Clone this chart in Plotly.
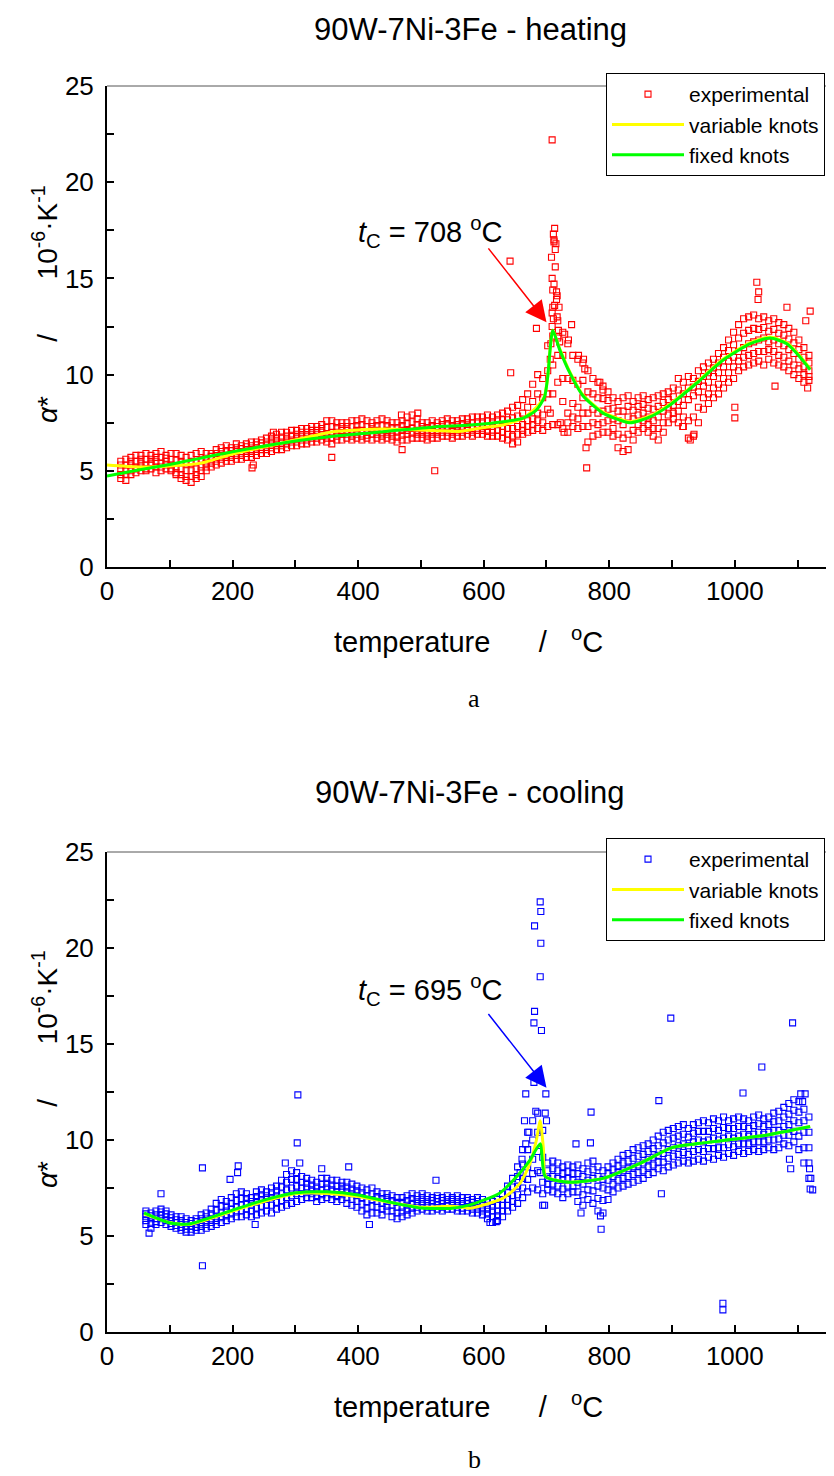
import plotly.graph_objects as go

# heating run: temperature columns and alpha* at several heights
heat_t = [22, 30, 38, 46, 54, 62, 70, 78, 86, 94,
          102, 110, 118, 126, 134, 142, 150, 158, 166, 174,
          182, 190, 198, 206, 214, 222, 230, 238, 246, 254,
          262, 270, 278, 286, 294, 302, 310, 318, 326, 334,
          342, 350, 358, 366, 374, 382, 390, 398, 406, 414,
          422, 430, 438, 446, 454, 462, 470, 478, 486, 494,
          502, 510, 518, 526, 534, 542, 550, 558, 566, 574,
          582, 590, 598, 606, 614, 622, 630, 638, 646, 654,
          662, 670, 678, 686, 694, 702, 710, 718, 726, 734,
          742, 750, 758, 766, 774, 782, 790, 798, 806, 814,
          822, 830, 838, 846, 854, 862, 870, 878, 886, 894,
          902, 910, 918, 926, 934, 942, 950, 958, 966, 974,
          982, 990, 998, 1006, 1014, 1022, 1030, 1038, 1046, 1054,
          1062, 1070, 1078, 1086, 1094, 1102, 1110, 1118]
heat_lo = [4.6, 4.5, 4.8, 4.9, 5.0, 5.0, 5.1, 4.9, 5.0, 5.1,
           5.0, 4.8, 4.6, 4.5, 4.4, 4.6, 4.7, 5.0, 5.2, 5.3,
           5.4, 5.5, 5.5, 5.6, 5.6, 5.7, 5.7, 5.8, 5.9, 5.9,
           6.0, 6.1, 6.1, 6.2, 6.3, 6.3, 6.4, 6.4, 6.5, 6.5,
           6.6, 6.5, 6.4, 6.6, 6.6, 6.7, 6.6, 6.7, 6.6, 6.7,
           6.6, 6.7, 6.6, 6.7, 6.6, 6.5, 6.6, 6.6, 6.7, 6.7,
           6.7, 6.6, 6.7, 6.7, 6.8, 6.8, 6.7, 6.8, 6.8, 6.9,
           6.8, 6.9, 6.9, 6.8, 6.8, 6.8, 6.7, 6.6, 6.4, 6.5,
           6.9, 7.0, 7.1, 7.2, 7.1, 7.3, 7.4, 7.4, 7.2, 7.0,
           7.3, 7.2, 7.3, 6.5, 6.8, 6.9, 7.0, 7.0, 6.8, 6.2,
           6.0, 6.1, 6.6, 7.0, 7.2, 7.0, 6.8, 6.6, 7.0, 7.5,
           7.7, 7.5, 7.3, 6.7, 6.8, 7.5, 8.2, 8.5, 8.8, 9.0,
           9.3, 9.6, 9.8, 10.2, 10.4, 10.5, 10.6, 10.7, 10.5, 10.8,
           10.6, 10.5, 10.4, 10.2, 10.0, 9.8, 9.6, 9.7]
heat_q1 = [4.8, 4.8, 5.0, 5.1, 5.2, 5.1, 5.3, 5.2, 5.2, 5.3,
           5.1, 4.9, 4.8, 4.7, 4.7, 4.8, 5.0, 5.2, 5.4, 5.5,
           5.6, 5.7, 5.7, 5.8, 5.8, 5.9, 5.9, 6.0, 6.1, 6.1,
           6.2, 6.3, 6.3, 6.4, 6.5, 6.5, 6.6, 6.6, 6.7, 6.7,
           6.8, 6.7, 6.7, 6.8, 6.9, 6.9, 6.8, 6.9, 6.8, 6.85,
           6.9, 6.9, 6.8, 6.9, 6.8, 6.75, 6.85, 6.9, 6.95, 6.9,
           6.9, 6.8, 6.9, 6.9, 7.0, 7.0, 6.9, 7.0, 7.0, 7.1,
           7.0, 7.1, 7.1, 7.05, 7.0, 7.1, 7.0, 6.9, 6.8, 6.9,
           7.1, 7.3, 7.4, 7.6, 7.5, 8.2, 9.0, 9.6, 8.6, 7.5,
           7.8, 7.7, 8.0, 7.3, 7.5, 7.4, 7.5, 7.6, 7.2, 6.9,
           6.7, 6.9, 7.1, 7.4, 7.6, 7.4, 7.2, 7.2, 7.5, 7.9,
           8.0, 8.1, 7.8, 7.6, 7.8, 8.3, 8.8, 9.0, 9.3, 9.5,
           9.8, 10.1, 10.4, 10.7, 10.9, 11.0, 11.1, 11.2, 11.2, 11.3,
           11.2, 11.0, 10.9, 10.7, 10.5, 10.3, 10.0, 9.9]
heat_mid = [5.1, 5.0, 5.3, 5.2, 5.4, 5.3, 5.4, 5.5, 5.4, 5.5,
            5.3, 5.2, 5.1, 5.0, 5.0, 5.1, 5.2, 5.4, 5.6, 5.7,
            5.8, 5.8, 5.9, 6.0, 6.0, 6.1, 6.1, 6.2, 6.3, 6.3,
            6.4, 6.5, 6.5, 6.6, 6.6, 6.7, 6.8, 6.8, 6.9, 6.9,
            7.0, 6.9, 7.0, 7.0, 7.1, 7.1, 7.0, 7.1, 7.1, 7.0,
            7.1, 7.1, 7.0, 7.1, 7.0, 7.0, 7.1, 7.1, 7.2, 7.1,
            7.1, 7.0, 7.1, 7.1, 7.2, 7.2, 7.1, 7.2, 7.2, 7.3,
            7.2, 7.3, 7.3, 7.3, 7.3, 7.4, 7.3, 7.2, 7.2, 7.3,
            7.4, 7.6, 7.7, 8.0, 7.9, 9.0, 10.5, 11.0, 9.8, 8.0,
            8.5, 8.3, 8.8, 8.0, 8.2, 8.0, 8.1, 8.2, 7.7, 7.6,
            7.4, 7.8, 7.7, 7.9, 8.0, 7.8, 7.6, 7.8, 8.1, 8.3,
            8.4, 8.6, 8.4, 8.7, 8.9, 9.1, 9.4, 9.6, 9.9, 10.1,
            10.4, 10.7, 10.9, 11.2, 11.4, 11.6, 11.7, 11.8, 11.9, 11.7,
            11.8, 11.6, 11.5, 11.3, 11.1, 10.8, 10.4, 10.2]
heat_q3 = [5.3, 5.3, 5.5, 5.5, 5.6, 5.6, 5.6, 5.7, 5.7, 5.65,
           5.6, 5.55, 5.45, 5.35, 5.4, 5.5, 5.6, 5.65, 5.75, 5.9,
           6.0, 6.05, 6.05, 6.2, 6.15, 6.25, 6.3, 6.35, 6.45, 6.5,
           6.6, 6.7, 6.75, 6.8, 6.85, 6.9, 7.0, 7.0, 7.1, 7.1,
           7.2, 7.25, 7.3, 7.25, 7.3, 7.3, 7.3, 7.35, 7.4, 7.3,
           7.3, 7.35, 7.35, 7.35, 7.25, 7.25, 7.35, 7.45, 7.55, 7.4,
           7.3, 7.25, 7.35, 7.3, 7.4, 7.45, 7.35, 7.4, 7.45, 7.5,
           7.5, 7.55, 7.55, 7.6, 7.55, 7.65, 7.65, 7.65, 7.75, 7.85,
           8.0, 8.3, 8.6, 9.0, 8.8, 10.2, 12.0, 11.9, 11.0, 9.8,
           9.7, 9.5, 9.7, 9.1, 9.0, 8.8, 8.75, 8.65, 8.25, 8.1,
           8.1, 8.35, 8.15, 8.35, 8.45, 8.25, 8.2, 8.35, 8.55, 8.7,
           8.85, 9.2, 9.0, 9.3, 9.35, 9.65, 9.9, 10.1, 10.35, 10.6,
           10.9, 11.25, 11.55, 11.9, 12.15, 12.3, 12.4, 12.35, 12.45, 12.25,
           12.35, 12.15, 12.05, 11.85, 11.65, 11.3, 10.9, 10.6]
heat_hi = [5.5, 5.6, 5.7, 5.8, 5.8, 5.9, 5.8, 5.9, 6.0, 5.8,
           5.9, 5.9, 5.8, 5.7, 5.8, 5.9, 6.0, 5.9, 5.9, 6.1,
           6.2, 6.3, 6.2, 6.4, 6.3, 6.4, 6.5, 6.5, 6.6, 6.7,
           6.8, 6.9, 7.0, 7.0, 7.1, 7.1, 7.2, 7.2, 7.3, 7.3,
           7.4, 7.6, 7.6, 7.5, 7.5, 7.5, 7.6, 7.6, 7.7, 7.6,
           7.5, 7.6, 7.7, 7.6, 7.5, 7.5, 7.6, 7.8, 7.9, 7.7,
           7.5, 7.5, 7.6, 7.5, 7.6, 7.7, 7.6, 7.6, 7.7, 7.7,
           7.8, 7.8, 7.8, 7.9, 7.8, 7.9, 8.0, 8.1, 8.3, 8.4,
           8.7, 9.0, 9.5, 10.0, 9.8, 11.5, 13.5, 12.8, 12.2, 11.6,
           11.0, 10.8, 10.6, 10.2, 9.8, 9.6, 9.4, 9.1, 8.8, 8.6,
           8.8, 8.9, 8.6, 8.8, 8.9, 8.7, 8.8, 8.9, 9.0, 9.1,
           9.3, 9.8, 9.6, 9.9, 9.8, 10.2, 10.4, 10.6, 10.8, 11.1,
           11.4, 11.8, 12.2, 12.6, 12.9, 13.0, 13.1, 12.9, 13.0, 12.8,
           12.9, 12.7, 12.6, 12.4, 12.2, 11.8, 11.4, 11.0]
# heating: peak spike and scattered points off the band
heat_out_t = [709, 713, 711, 712, 708, 714, 709, 712, 716, 717,
              713, 709, 717, 720, 709, 740, 729, 735, 751, 759,
              761, 785, 790, 642, 643, 684, 764, 763, 1000, 1000,
              1035, 1038, 1037, 1064, 1083, 1120, 1113, 1116, 522, 231,
              233, 358, 470, 495, 469, 265, 917, 929, 935, 706,
              722, 728, 706, 707, 711, 714, 716, 719, 721, 715,
              710, 712]
heat_out_a = [22.2, 17.6, 17.3, 16.9, 16.1, 16.5, 15.0, 14.7, 14.3, 14.1,
              13.6, 13.2, 13.0, 13.5, 12.5, 12.6, 12.1, 11.8, 11.0, 10.8,
              10.3, 9.6, 9.2, 15.9, 10.1, 12.4, 5.15, 6.2, 7.75, 8.3,
              14.8, 14.3, 13.9, 9.4, 13.5, 13.3, 12.8, 9.3, 5.0, 5.15,
              5.3, 5.7, 6.1, 8.0, 7.9, 7.0, 7.3, 6.6, 6.9, 8.0,
              7.5, 7.0, 10.8, 11.6, 12.9, 15.6, 13.9, 12.3, 11.7, 16.8,
              14.4, 17.0]
# heating fits
heat_var_t = [0, 50, 100, 150, 200, 300, 360, 440, 520, 563, 600, 631, 663, 684, 697, 702,
              710, 721, 737, 758, 790, 833, 865, 896, 939, 981, 1024, 1056, 1083, 1104, 1120]
heat_var_a = [5.3, 5.2, 5.25, 5.4, 5.87, 6.6, 7.03, 7.17, 7.1, 7.05, 7.25, 7.38, 7.74, 8.3, 8.9, 9.9,
              12.3, 11.35, 10.15, 8.95, 8.05, 7.55, 7.85, 8.45, 9.6, 10.8, 11.65, 11.95, 11.65, 10.95, 10.3]
heat_fix_t = [0, 50, 100, 150, 200, 300, 360, 440, 520, 578, 631, 663, 684, 697, 702,
              710, 721, 737, 758, 790, 833, 865, 896, 939, 981, 1024, 1056, 1083, 1104, 1120]
heat_fix_a = [4.73, 5.04, 5.33, 5.66, 5.99, 6.55, 6.8, 7.03, 7.28, 7.38, 7.55, 7.74, 8.16, 8.85, 9.9,
              12.3, 11.3, 10.1, 8.9, 8.0, 7.5, 7.8, 8.4, 9.55, 10.75, 11.6, 11.9, 11.6, 10.9, 10.25]

# cooling run
cool_t = [62, 70, 78, 86, 94, 102, 110, 118, 126, 134,
          142, 150, 158, 166, 174, 182, 190, 198, 206, 214,
          222, 230, 238, 246, 254, 262, 270, 278, 286, 294,
          302, 310, 318, 326, 334, 342, 350, 358, 366, 374,
          382, 390, 398, 406, 414, 422, 430, 438, 446, 454,
          462, 470, 478, 486, 494, 502, 510, 518, 526, 534,
          542, 550, 558, 566, 574, 582, 590, 598, 606, 614,
          622, 630, 638, 646, 654, 662, 670, 678, 686, 694,
          702, 710, 718, 726, 734, 742, 750, 758, 766, 774,
          782, 790, 798, 806, 814, 822, 830, 838, 846, 854,
          862, 870, 878, 886, 894, 902, 910, 918, 926, 934,
          942, 950, 958, 966, 974, 982, 990, 998, 1006, 1014,
          1022, 1030, 1038, 1046, 1054, 1062, 1070, 1078, 1086, 1094,
          1102, 1110, 1118]
cool_lo = [5.6, 5.4, 5.6, 5.7, 5.6, 5.5, 5.4, 5.3, 5.2, 5.2,
           5.3, 5.3, 5.4, 5.5, 5.6, 5.7, 5.8, 5.9, 6.0, 6.0,
           6.1, 6.0, 6.1, 6.2, 6.3, 6.2, 6.4, 6.5, 6.6, 6.7,
           6.8, 6.9, 7.0, 7.0, 6.8, 6.9, 7.0, 6.9, 6.8, 6.9,
           6.7, 6.6, 6.5, 6.3, 6.1, 6.2, 6.2, 6.1, 6.3, 6.0,
           5.9, 6.0, 6.1, 6.2, 6.3, 6.4, 6.3, 6.3, 6.4, 6.3,
           6.4, 6.4, 6.3, 6.3, 6.3, 6.2, 6.2, 6.1, 5.9, 5.7,
           5.8, 6.0, 6.3, 6.5, 6.7, 7.0, 7.3, 7.5, 7.4, 6.6,
           7.4, 7.3, 7.2, 7.0, 7.2, 7.3, 6.8, 6.6, 6.9, 6.7,
           6.3, 6.2, 6.9, 7.3, 7.5, 7.6, 7.7, 7.8, 7.9, 8.0,
           8.2, 8.3, 8.5, 8.4, 8.6, 8.7, 8.8, 8.9, 8.8, 8.9,
           9.0, 8.9, 9.1, 9.0, 9.2, 9.1, 9.3, 9.2, 9.4, 9.3,
           9.4, 9.5, 9.4, 9.5, 9.6, 9.5, 9.6, 9.8, 9.7, 9.9,
           9.5, 8.8, 8.0]
cool_q1 = [5.8, 5.65, 5.75, 5.9, 5.8, 5.65, 5.55, 5.45, 5.35, 5.35,
           5.45, 5.5, 5.6, 5.7, 5.8, 5.95, 6.05, 6.15, 6.25, 6.3,
           6.4, 6.3, 6.45, 6.55, 6.6, 6.6, 6.75, 6.85, 7.0, 7.1,
           7.2, 7.2, 7.25, 7.2, 7.05, 7.15, 7.25, 7.15, 7.05, 7.15,
           7.0, 6.9, 6.8, 6.65, 6.45, 6.55, 6.5, 6.4, 6.55, 6.3,
           6.2, 6.25, 6.35, 6.45, 6.5, 6.6, 6.5, 6.5, 6.6, 6.5,
           6.55, 6.6, 6.5, 6.45, 6.5, 6.4, 6.4, 6.3, 6.15, 6.0,
           6.05, 6.3, 6.6, 6.8, 7.15, 7.5, 7.95, 8.25, 8.4, 7.2,
           7.7, 7.7, 7.6, 7.45, 7.6, 7.6, 7.3, 7.15, 7.4, 7.35,
           6.95, 6.85, 7.4, 7.7, 7.9, 8.0, 8.1, 8.2, 8.3, 8.4,
           8.6, 8.7, 8.85, 8.85, 9.05, 9.15, 9.25, 9.35, 9.25, 9.4,
           9.5, 9.4, 9.55, 9.55, 9.6, 9.6, 9.75, 9.65, 9.8, 9.8,
           9.8, 9.9, 9.9, 9.9, 10.0, 10.0, 10.05, 10.25, 10.25, 10.45,
           10.2, 9.6, 8.8]
cool_mid = [6.0, 5.9, 5.9, 6.1, 6.0, 5.8, 5.7, 5.6, 5.5, 5.5,
            5.6, 5.7, 5.8, 5.9, 6.0, 6.2, 6.3, 6.4, 6.5, 6.6,
            6.7, 6.6, 6.8, 6.9, 6.9, 7.0, 7.1, 7.2, 7.4, 7.5,
            7.6, 7.5, 7.5, 7.4, 7.3, 7.4, 7.5, 7.4, 7.3, 7.4,
            7.3, 7.2, 7.1, 7.0, 6.8, 6.9, 6.8, 6.7, 6.8, 6.6,
            6.5, 6.5, 6.6, 6.7, 6.7, 6.8, 6.7, 6.7, 6.8, 6.7,
            6.7, 6.8, 6.7, 6.6, 6.7, 6.6, 6.6, 6.5, 6.4, 6.3,
            6.3, 6.6, 6.9, 7.1, 7.6, 8.0, 8.6, 9.0, 9.4, 7.8,
            8.0, 8.1, 8.0, 7.9, 8.0, 7.9, 7.8, 7.7, 7.9, 8.0,
            7.6, 7.5, 7.9, 8.1, 8.3, 8.4, 8.5, 8.6, 8.7, 8.8,
            9.0, 9.1, 9.2, 9.3, 9.5, 9.6, 9.7, 9.8, 9.7, 9.9,
            10.0, 9.9, 10.0, 10.1, 10.0, 10.1, 10.2, 10.1, 10.2, 10.3,
            10.2, 10.3, 10.4, 10.3, 10.4, 10.5, 10.5, 10.7, 10.8, 11.0,
            10.9, 10.4, 9.6]
cool_q3 = [6.15, 6.05, 6.1, 6.25, 6.15, 5.95, 5.85, 5.8, 5.7, 5.65,
           5.75, 5.9, 6.0, 6.15, 6.35, 6.55, 6.55, 6.7, 6.85, 6.95,
           6.95, 6.8, 7.05, 7.15, 7.1, 7.25, 7.35, 7.55, 7.8, 7.95,
           7.95, 7.8, 7.75, 7.65, 7.55, 7.7, 7.75, 7.65, 7.6, 7.6,
           7.55, 7.45, 7.35, 7.25, 7.1, 7.2, 7.05, 6.95, 7.0, 6.85,
           6.75, 6.75, 6.85, 6.95, 6.9, 7.0, 6.9, 6.85, 6.95, 6.85,
           6.9, 6.9, 6.9, 6.8, 6.85, 6.75, 6.8, 6.7, 6.6, 6.55,
           6.6, 6.9, 7.25, 7.55, 8.1, 8.75, 9.5, 10.0, 10.4, 9.1,
           8.4, 8.5, 8.4, 8.25, 8.35, 8.25, 8.25, 8.1, 8.35, 8.45,
           8.1, 7.95, 8.25, 8.45, 8.65, 8.8, 8.9, 9.05, 9.15, 9.25,
           9.4, 9.55, 9.7, 9.85, 10.0, 10.1, 10.2, 10.3, 10.15, 10.35,
           10.45, 10.45, 10.45, 10.6, 10.5, 10.65, 10.6, 10.6, 10.7, 10.7,
           10.6, 10.75, 10.85, 10.7, 10.8, 10.95, 11.0, 11.2, 11.35, 11.55,
           11.45, 11.0, 10.4]
cool_hi = [6.3, 6.2, 6.3, 6.4, 6.3, 6.1, 6.0, 6.0, 5.9, 5.8,
           5.9, 6.1, 6.2, 6.4, 6.7, 6.9, 6.8, 7.0, 7.2, 7.3,
           7.2, 7.0, 7.3, 7.4, 7.3, 7.5, 7.6, 7.9, 8.2, 8.4,
           8.3, 8.1, 8.0, 7.9, 7.8, 8.0, 8.0, 7.9, 7.9, 7.8,
           7.8, 7.7, 7.6, 7.5, 7.4, 7.5, 7.3, 7.2, 7.2, 7.1,
           7.0, 7.0, 7.1, 7.2, 7.1, 7.2, 7.1, 7.0, 7.1, 7.0,
           7.1, 7.0, 7.1, 7.0, 7.0, 6.9, 7.0, 6.9, 6.8, 6.8,
           6.9, 7.2, 7.6, 8.0, 8.6, 9.5, 10.4, 11.0, 11.4, 10.5,
           8.8, 8.9, 8.8, 8.6, 8.7, 8.6, 8.7, 8.5, 8.8, 8.9,
           8.6, 8.4, 8.6, 8.8, 9.0, 9.2, 9.3, 9.5, 9.6, 9.7,
           9.8, 10.0, 10.2, 10.4, 10.5, 10.6, 10.7, 10.8, 10.6, 10.8,
           10.9, 11.0, 10.9, 11.1, 11.0, 11.2, 11.0, 11.1, 11.2, 11.1,
           11.0, 11.2, 11.3, 11.1, 11.2, 11.4, 11.5, 11.7, 11.9, 12.1,
           12.0, 11.6, 11.2]
cool_out_t = [152, 152, 304, 303, 209, 208, 196, 284, 307, 342,
              385, 524, 86, 67, 236, 418, 690, 691, 681, 691,
              690, 681, 680, 692, 680, 667, 699, 771, 898, 1092,
              1043, 1013, 879, 981, 981, 787, 883, 747, 770, 755,
              786, 658, 661, 667, 672, 683, 665, 698, 700, 690,
              697, 610, 620, 1120, 1124, 1121, 1119, 1089, 1087, 1105,
              1112, 1108]
cool_out_a = [3.45, 8.55, 12.35, 9.85, 8.65, 8.3, 7.95, 8.8, 8.8, 8.5,
              8.6, 7.9, 7.2, 5.15, 5.6, 5.6, 22.4, 21.9, 21.15, 20.25,
              18.5, 16.7, 16.1, 15.7, 13.0, 12.4, 12.4, 11.45, 16.35, 16.1,
              13.8, 12.45, 12.05, 1.5, 1.15, 5.35, 7.2, 9.8, 9.85, 6.2,
              6.05, 8.3, 9.0, 9.8, 10.4, 11.5, 11.0, 11.4, 11.0, 8.3,
              6.6, 5.7, 5.75, 7.45, 7.4, 8.0, 8.5, 8.5, 9.0, 12.4,
              12.4, 12.0]
cool_var_t = [59, 100, 130, 200, 250, 300, 350, 400, 450, 500, 550, 578, 631, 658,
              674, 684, 690, 695, 699, 737, 790, 850, 900, 950, 1000, 1050, 1120]
cool_var_a = [6.15, 5.7, 5.6, 6.3, 6.8, 7.2, 7.22, 7.05, 6.75, 6.5, 6.55, 6.45, 6.97, 7.75,
              8.8, 10.0, 11.0, 9.6, 8.1, 7.8, 8.0, 8.8, 9.6, 9.85, 10.05, 10.25, 10.7]
cool_fix_t = [59, 100, 130, 200, 250, 300, 350, 400, 450, 500, 550, 578, 626, 658,
              674, 690, 698, 737, 790, 850, 900, 950, 1000, 1050, 1120]
cool_fix_a = [6.2, 5.68, 5.62, 6.35, 6.87, 7.25, 7.3, 7.14, 6.77, 6.46, 6.45, 6.62, 7.24, 8.3,
              8.96, 9.8, 8.1, 7.8, 8.0, 8.8, 9.6, 9.85, 10.05, 10.25, 10.7]

heat_cols = [heat_lo, heat_q1, heat_mid, heat_q3, heat_hi]
cool_cols = [cool_lo, cool_q1, cool_mid, cool_q3, cool_hi]
for t, cols in [(heat_t, heat_cols), (cool_t, cool_cols)]:
    for c in cols:
        assert len(c) == len(t), (len(t), len(c))
assert len(heat_out_t) == len(heat_out_a) and len(cool_out_t) == len(cool_out_a)
assert len(heat_var_t) == len(heat_var_a) and len(heat_fix_t) == len(heat_fix_a)
assert len(cool_var_t) == len(cool_var_a) and len(cool_fix_t) == len(cool_fix_a)

SANS = "Liberation Sans, Arial, sans-serif"
SERIF = "Liberation Serif, Times New Roman, serif"
NB = "\u00a0"

fig = go.Figure()


def add_panel(xa, ya, leg, color, t, cols, out_t, out_a, var_t, var_a, fix_t, fix_a):
    xs = t * len(cols) + out_t
    ys = [v for c in cols for v in c] + out_a
    fig.add_trace(go.Scatter(x=xs, y=ys, mode="markers", name="experimental",
                             xaxis=xa, yaxis=ya, legend=leg,
                             marker=dict(symbol="square-open", size=6, color=color,
                                         line=dict(width=1.1, color=color))))
    fig.add_trace(go.Scatter(x=var_t, y=var_a, mode="lines", name="variable knots",
                             xaxis=xa, yaxis=ya, legend=leg, line_shape="spline",
                             line=dict(color="#FFFF00", width=3, smoothing=0.6)))
    fig.add_trace(go.Scatter(x=fix_t, y=fix_a, mode="lines", name="fixed knots",
                             xaxis=xa, yaxis=ya, legend=leg, line_shape="spline",
                             line=dict(color="#00FF00", width=3, smoothing=0.6)))


add_panel("x", "y", "legend", "#FF0000", heat_t, heat_cols,
          heat_out_t, heat_out_a, heat_var_t, heat_var_a, heat_fix_t, heat_fix_a)
add_panel("x2", "y2", "legend2", "#0000FF", cool_t, cool_cols,
          cool_out_t, cool_out_a, cool_var_t, cool_var_a, cool_fix_t, cool_fix_a)

x_ticks = list(range(0, 1101, 100))
x_text = [str(v) if v % 200 == 0 else "" for v in x_ticks]
y_ticks = [0, 2.5, 5, 7.5, 10, 12.5, 15, 17.5, 20, 22.5, 25]
y_text = [str(int(v)) if v % 5 == 0 else "" for v in y_ticks]

xax = dict(range=[0, 1150], tickvals=x_ticks, ticktext=x_text, ticks="inside", ticklen=7,
           tickwidth=1.5, tickcolor="black", showline=True, linewidth=2, linecolor="black",
           showgrid=False, zeroline=False, tickfont=dict(size=26, color="black"),
           automargin=False)
yax = dict(range=[0, 25], tickvals=y_ticks, ticktext=y_text, ticks="inside", ticklen=7,
           tickwidth=1.5, tickcolor="black", showline=True, linewidth=2, linecolor="black",
           showgrid=False, zeroline=False, tickfont=dict(size=26, color="black"),
           ticklabelstandoff=6, automargin=False)

top_lo = (1332 - 567) / 1246
bot_hi = (1332 - 852) / 1246
leg_common = dict(xanchor="left", yanchor="top", bgcolor="white", bordercolor="black",
                  borderwidth=1, font=dict(size=21, family=SANS), tracegroupgap=0,
                  itemwidth=72)

# page body adds an 8 px offset, so the figure is 8 px smaller than the window
fig.update_layout(
    width=826, height=1468, autosize=False,
    margin=dict(l=99, r=5, t=78, b=144),
    paper_bgcolor="white", plot_bgcolor="white",
    font=dict(family=SANS, color="black"),
    xaxis=dict(xax, anchor="y", domain=[0, 1]),
    yaxis=dict(yax, anchor="x", domain=[top_lo, 1]),
    xaxis2=dict(xax, anchor="y2", domain=[0, 1]),
    yaxis2=dict(yax, anchor="x2", domain=[0, bot_hi]),
    legend=dict(leg_common, x=(606 - 107) / 722, y=(1332 - 73) / 1246),
    legend2=dict(leg_common, x=(606 - 107) / 722, y=(1332 - 838) / 1246),
    showlegend=True,
)

# thin top / right frame
for xr, yr in [("x domain", "y domain"), ("x2 domain", "y2 domain")]:
    fig.add_shape(type="line", xref=xr, yref=yr, x0=0, x1=1, y0=1, y1=1,
                  line=dict(color="#555555", width=1))
    fig.add_shape(type="line", xref=xr, yref=yr, x0=1, x1=1, y0=0, y1=1,
                  line=dict(color="#555555", width=1))

ytitle = "<i>α</i>*" + NB * 7 + "/" + NB * 7 + "10<sup>-6</sup>·K<sup>-1</sup>"
xtitle = "temperature" + NB * 6 + "/" + NB * 3 + "<sup>o</sup>C"


def py(px):
    return (1332 - px) / 1246


def px_x(px):
    return (px - 107) / 722


ann = []
for title, ty, xt_y, yt_y, lab, lab_y in [
        ("90W-7Ni-3Fe - heating", 30, 640, 304, "a", 698),
        ("90W-7Ni-3Fe - cooling", 793, 1405, 1069, "b", 1460)]:
    ann.append(dict(text=title, x=px_x(470), y=py(ty), font=dict(size=31, family=SANS)))
    ann.append(dict(text=xtitle, x=px_x(468), y=py(xt_y), font=dict(size=29, family=SANS)))
    ann.append(dict(text=ytitle, x=px_x(45), y=py(yt_y), textangle=-90,
                    font=dict(size=28, family=SANS)))
    ann.append(dict(text=lab, x=px_x(474), y=py(lab_y), font=dict(size=26, family=SERIF)))
for a in ann:
    a.update(xref="paper", yref="paper", showarrow=False, xanchor="center", yanchor="middle")

for xa, ya, label, color, ty in [("x", "y", "708", "#FF0000", 17.4),
                                 ("x2", "y2", "695", "#0000FF", 17.8)]:
    ann.append(dict(text="<i>t</i><sub>C</sub> = " + label + " <sup>o</sup>C", x=514, y=ty,
                    xref=xa, yref=ya, showarrow=False, xanchor="center", yanchor="middle",
                    font=dict(size=29, family=SANS)))
    ann.append(dict(text="", x=700, y=12.72, ax=605.6, ay=16.64, xref=xa, yref=ya,
                    axref=xa, ayref=ya, showarrow=True, arrowhead=2, arrowsize=2.8,
                    arrowwidth=1.5, arrowcolor=color, standoff=0))

fig.update_layout(annotations=ann)

fig.write_html("out.html")
